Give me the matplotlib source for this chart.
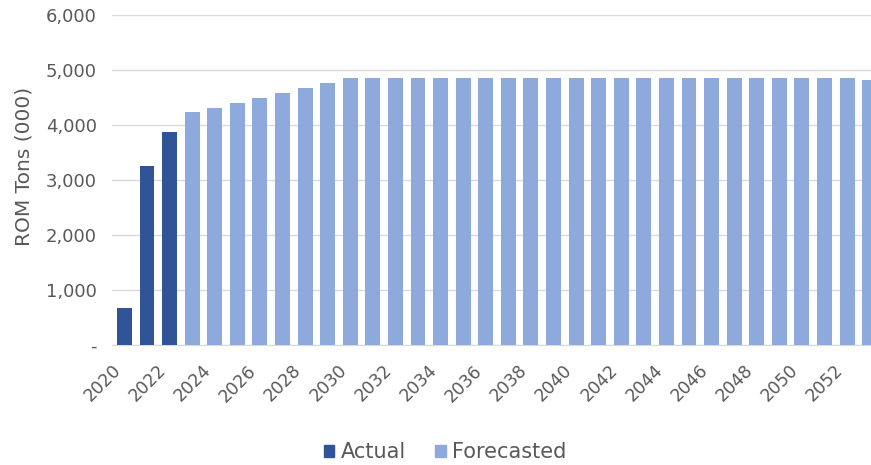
import numpy as np
import matplotlib
matplotlib.use("Agg")
import matplotlib.pyplot as plt
from matplotlib.ticker import FuncFormatter
from matplotlib.patches import Patch

# ROM tons (000)
actual_years = [2020, 2021, 2022]
actual_tons = [680, 3260, 3880]

forecast_years = list(range(2023, 2054))
forecast_tons = [4230, 4310, 4400, 4490, 4580, 4670, 4760] + [4850] * 23 + [4810]

tick_years = list(range(2020, 2053, 2))

DARK = "#2f5597"
LIGHT = "#8eaadc"
TEXT = "#595959"

plt.rcParams["font.family"] = ["DejaVu Sans"]

fig = plt.figure(figsize=(8.71, 4.65), dpi=100)
ax = fig.add_axes([112 / 871, 1 - 345 / 465, 1 - 112 / 871, 330 / 465])

w = 0.66
ax.bar(actual_years, actual_tons, width=w, color=DARK, zorder=3)
ax.bar(forecast_years, forecast_tons, width=w, color=LIGHT, zorder=3)

ax.set_xlim(2020 - 0.55, 2020 + 33.06)
ax.set_ylim(0, 6000)
ax.set_yticks(range(0, 6001, 1000))
ax.yaxis.set_major_formatter(FuncFormatter(lambda v, _: "-" if v == 0 else f"{int(v):,}"))
ax.set_xticks(tick_years)
ax.set_xticklabels([str(y) for y in tick_years], rotation=45, ha="right",
                   va="bottom", rotation_mode="anchor")

ax.grid(axis="y", color="#d9d9d9", lw=1, zorder=0)
for s in ("top", "right", "left"):
    ax.spines[s].set_visible(False)
ax.spines["bottom"].set_color("#d9d9d9")
ax.tick_params(axis="both", length=0, colors=TEXT)
ax.tick_params(axis="y", pad=11, labelsize=13)
ax.tick_params(axis="x", pad=21, labelsize=12.5)
ax.set_ylabel("ROM Tons (000)", color=TEXT, fontsize=14.5)
ax.yaxis.set_label_coords(-0.104, 0.54)

handles = [Patch(color=DARK, label="Actual"), Patch(color=LIGHT, label="Forecasted")]
fig.legend(handles=handles, loc="center", bbox_to_anchor=(0.511, 0.028), ncol=2,
           frameon=False, fontsize=15, labelcolor=TEXT, handlelength=0.5,
           handleheight=0.5, handletextpad=0.3, columnspacing=1.4)

fig.savefig("out.png", dpi=100)
